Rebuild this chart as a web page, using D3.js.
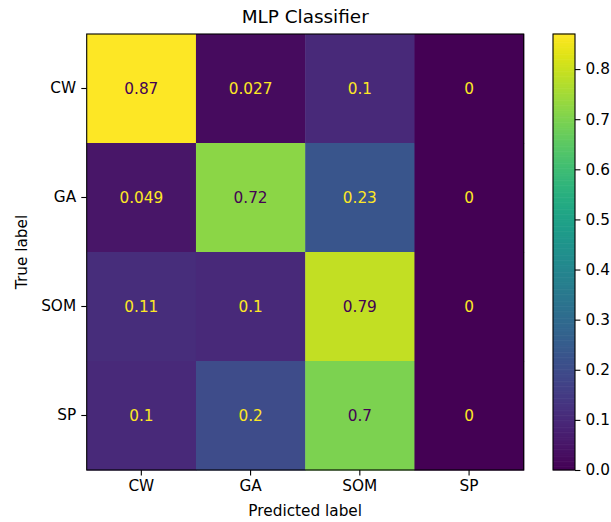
<!DOCTYPE html>
<html>
<head>
<meta charset="utf-8">
<script src="https://cdn.jsdelivr.net/npm/d3@7"></script>
<style>
  html, body { margin: 0; padding: 0; background: #fff; }
  svg { display: block; }
  text { font-family: "DejaVu Sans", sans-serif; }
</style>
</head>
<body>
<svg id="chart" width="611" height="522"></svg>
<script>
// Confusion matrix (row-normalised) for the MLP classifier
const classes = ["CW", "GA", "SOM", "SP"];
const rowCW  = [0.87, 0.027, 0.1, 0];
const rowGA  = [0.049, 0.72, 0.23, 0];
const rowSOM = [0.11, 0.1, 0.79, 0];
const rowSP  = [0.1, 0.2, 0.7, 0];
const matrix = [rowCW, rowGA, rowSOM, rowSP];
const colorbarTicks = [0.0, 0.1, 0.2, 0.3, 0.4, 0.5, 0.6, 0.7, 0.8];
const vmin = 0, vmax = 0.87;

const FS = "15.3px";       // tick / annotation font
const TICK = 5.4, PAD = 5.2, LW = 1.1;

const svg = d3.select("#chart");
const plot = { left: 86.7, top: 34, width: 437, height: 436 };

const x = d3.scaleBand().domain(classes).range([plot.left, plot.left + plot.width]);
const y = d3.scaleBand().domain(classes).range([plot.top, plot.top + plot.height]);
const color = d3.scaleSequential(d3.interpolateViridis).domain([vmin, vmax]);

const cells = [];
matrix.forEach((row, i) => row.forEach((v, j) => cells.push({ t: classes[i], p: classes[j], v })));

// heatmap cells
svg.append("g").selectAll("rect").data(cells).join("rect")
  .attr("x", d => x(d.p))
  .attr("y", d => y(d.t))
  .attr("width", x.bandwidth() + 0.5)
  .attr("height", y.bandwidth() + 0.5)
  .attr("fill", d => color(d.v));

// cell annotations, dark text on bright cells
const thresh = (vmin + vmax) / 2;
svg.append("g").selectAll("text").data(cells).join("text")
  .attr("x", d => x(d.p) + x.bandwidth() / 2)
  .attr("y", d => y(d.t) + y.bandwidth() / 2)
  .attr("text-anchor", "middle")
  .attr("dominant-baseline", "central")
  .attr("font-size", FS)
  .attr("fill", d => d.v > thresh ? color(vmin) : color(vmax))
  .text(d => String(d.v));

// frame
svg.append("rect")
  .attr("x", plot.left).attr("y", plot.top)
  .attr("width", plot.width).attr("height", plot.height)
  .attr("fill", "none").attr("stroke", "#000").attr("stroke-width", LW);

// axes
const xAxis = d3.axisBottom(x).tickSize(TICK).tickPadding(PAD);
const gx = svg.append("g").attr("transform", `translate(0,${plot.top + plot.height})`).call(xAxis);
const yAxis = d3.axisLeft(y).tickSize(TICK).tickPadding(PAD);
const gy = svg.append("g").attr("transform", `translate(${plot.left},0)`).call(yAxis);
[gx, gy].forEach(g => {
  g.select(".domain").remove();
  g.selectAll("text").attr("font-size", FS).attr("fill", "#000").attr("font-family", "DejaVu Sans, sans-serif");
  g.selectAll("line").attr("stroke", "#000").attr("stroke-width", LW);
});

// titles
svg.append("text").attr("x", plot.left + plot.width / 2).attr("y", 23)
  .attr("text-anchor", "middle").attr("font-size", "18.4px").attr("fill", "#000")
  .text("MLP Classifier");
svg.append("text").attr("x", plot.left + plot.width / 2).attr("y", 516)
  .attr("text-anchor", "middle").attr("font-size", FS).attr("fill", "#000")
  .text("Predicted label");
svg.append("text")
  .attr("transform", `translate(27,${plot.top + plot.height / 2}) rotate(-90)`)
  .attr("text-anchor", "middle").attr("font-size", FS).attr("fill", "#000")
  .text("True label");

// colorbar
const cb = { left: 553, width: 22 };
const cbScale = d3.scaleLinear().domain([vmin, vmax]).range([plot.top + plot.height, plot.top]);
const n = 256, dv = (vmax - vmin) / n;
const steps = d3.range(0, n).map(i => vmin + dv * i);
svg.append("g").selectAll("rect").data(steps).join("rect")
  .attr("x", cb.left)
  .attr("width", cb.width)
  .attr("y", d => cbScale(d + dv) - 0.3)
  .attr("height", d => cbScale(d) - cbScale(d + dv) + 0.6)
  .attr("fill", d => color(d + dv / 2));
svg.append("rect")
  .attr("x", cb.left).attr("y", plot.top)
  .attr("width", cb.width).attr("height", plot.height)
  .attr("fill", "none").attr("stroke", "#000").attr("stroke-width", LW);
const cAxis = d3.axisRight(cbScale).tickValues(colorbarTicks).tickFormat(d3.format(".1f")).tickSize(TICK).tickPadding(PAD);
const gc = svg.append("g").attr("transform", `translate(${cb.left + cb.width},0)`).call(cAxis);
gc.select(".domain").remove();
gc.selectAll("text").attr("font-size", FS).attr("fill", "#000").attr("font-family", "DejaVu Sans, sans-serif");
gc.selectAll("line").attr("stroke", "#000").attr("stroke-width", LW);
</script>
</body>
</html>
